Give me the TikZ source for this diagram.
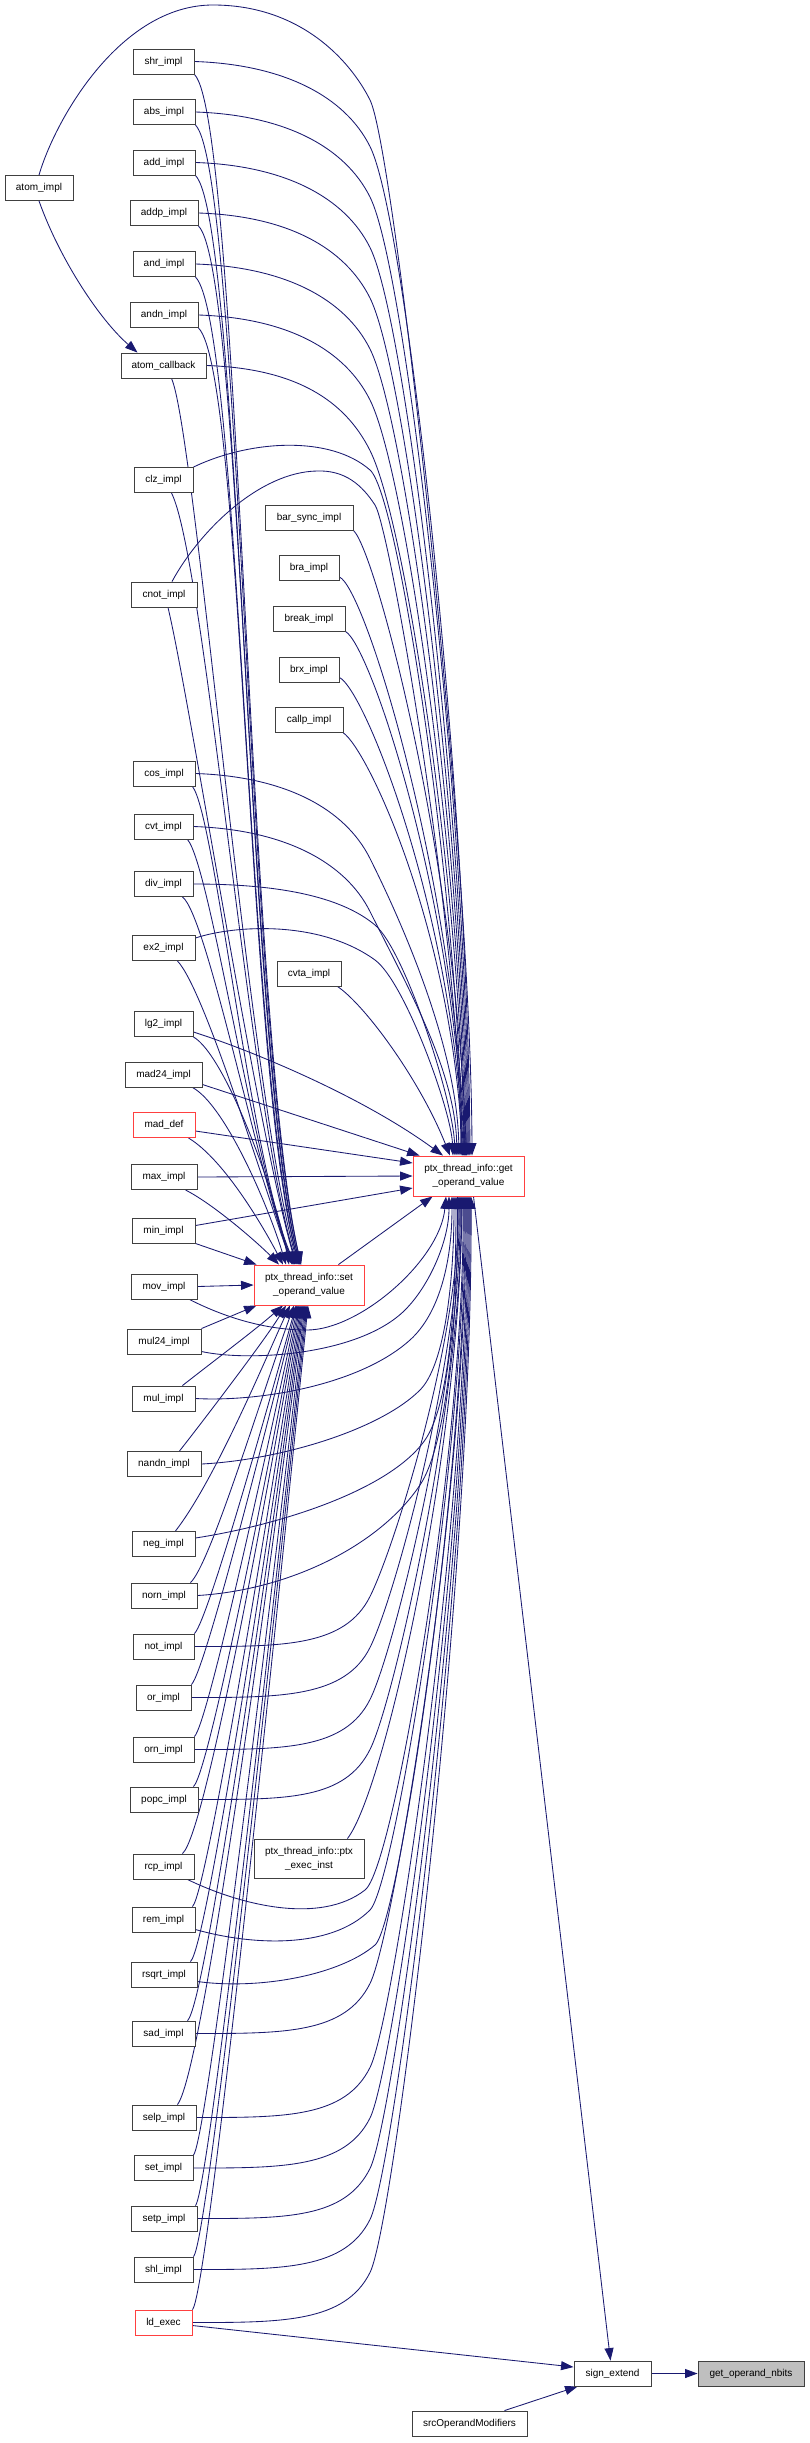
\documentclass[tikz,border=0pt]{standalone}
\usepackage{fontspec}
\setmainfont{Liberation Sans}
\usetikzlibrary{arrows.meta}
\definecolor{edgeblue}{RGB}{25,25,112}
\definecolor{boxgray}{RGB}{64,64,64}
\definecolor{boxred}{RGB}{255,64,64}
\definecolor{nbfill}{RGB}{191,191,191}
\pgfdeclarelayer{bg}
\pgfsetlayers{bg,main}
\tikzset{
  box/.style={draw=boxgray, line width=0.9pt, fill=white, inner sep=0pt, minimum height=25pt,
    font=\fontsize{10}{14}\selectfont, align=center, text=black},
  redbox/.style={box, draw=boxred},
  edge/.style={draw=edgeblue, line width=0.85pt, -{Triangle[length=12.5pt,width=9pt]}},
}
\newcommand\GetA[4]{\draw[edge] (#1.east) .. controls ({#2+90},{#3+3}) and (345,{#3+35}) .. (370,{#3+85}) .. controls (407.5,{#3+160}) and ({466.5+(#4)},{751.4+0.35*(#3+85)}) .. ([xshift=#4pt]xgetov.north);}
\newcommand\GetB[5]{\draw[edge] (#1.east) .. controls ({#2+90},#3) and (345,{#4+50}) .. (370,#4) .. controls (395,{#4-50}) and ({470.5+(#5)},{777.4+0.35*#4}) .. ([xshift=#5pt]xgetov.south);}
\newcommand\SetB[4]{\draw[edge] (#1) .. controls (#2,#3) and ({309+(#4)+0.25*(#2-309-(#4))},{1305+0.25*(#3-1305)}) .. ([xshift=#4pt]xsetov.south);}
\begin{document}
\begin{tikzpicture}[x=1pt,y=-1pt]
\begin{pgfonlayer}{bg}
\fill[white] (0,0) rectangle (809,2443);
\end{pgfonlayer}
\useasboundingbox (0,0) rectangle (809,2443);
% left column
\node[box,minimum width=61pt] (xshr) at (163.5,61.5) {shr\_impl};
\node[box,minimum width=62pt] (xabs) at (164,112) {abs\_impl};
\node[box,minimum width=62pt] (xadd) at (164,162.5) {add\_impl};
\node[box,minimum width=68pt] (xaddp) at (164,213) {addp\_impl};
\node[box,minimum width=62pt] (xand) at (164,264) {and\_impl};
\node[box,minimum width=68pt] (xandn) at (164,315) {andn\_impl};
\node[box,minimum width=85pt] (xatomcb) at (163.5,365.5) {atom\_callback};
\node[box,minimum width=68pt] (xatomimpl) at (39,188) {atom\_impl};
\node[box,minimum width=59pt] (xclz) at (163.5,480) {clz\_impl};
\node[box,minimum width=66pt] (xcnot) at (164,594.5) {cnot\_impl};
\node[box,minimum width=62pt] (xcos) at (164,773.5) {cos\_impl};
\node[box,minimum width=59pt] (xcvt) at (163.5,826.5) {cvt\_impl};
\node[box,minimum width=59pt] (xdiv) at (163.5,884) {div\_impl};
\node[box,minimum width=63pt] (xex2) at (163.5,948) {ex2\_impl};
\node[box,minimum width=59pt] (xlg2) at (163.5,1024) {lg2\_impl};
\node[box,minimum width=77pt] (xmad24) at (163.5,1074.5) {mad24\_impl};
\node[redbox,minimum width=62pt] (xmaddef) at (164,1125) {mad\_def};
\node[box,minimum width=66pt] (xmax) at (164,1177) {max\_impl};
\node[box,minimum width=63pt] (xmin) at (163.5,1230.5) {min\_impl};
\node[box,minimum width=66pt] (xmov) at (164,1286.5) {mov\_impl};
\node[box,minimum width=74pt] (xmul24) at (164,1341.5) {mul24\_impl};
\node[box,minimum width=63pt] (xmul) at (163.5,1398.5) {mul\_impl};
\node[box,minimum width=74pt] (xnandn) at (164,1464) {nandn\_impl};
\node[box,minimum width=63pt] (xneg) at (163.5,1544) {neg\_impl};
\node[box,minimum width=66pt] (xnorn) at (164,1595.5) {norn\_impl};
\node[box,minimum width=61pt] (xnot) at (163.5,1646.5) {not\_impl};
\node[box,minimum width=55pt] (xor) at (163.5,1697.5) {or\_impl};
\node[box,minimum width=61pt] (xorn) at (163.5,1749.5) {orn\_impl};
\node[box,minimum width=68pt] (xpopc) at (164,1799.5) {popc\_impl};
\node[box,minimum width=61pt] (xrcp) at (163.5,1866.5) {rcp\_impl};
\node[box,minimum width=63pt] (xrem) at (163.5,1919.5) {rem\_impl};
\node[box,minimum width=66pt] (xrsqrt) at (164,1974.5) {rsqrt\_impl};
\node[box,minimum width=63pt] (xsad) at (163.5,2033.5) {sad\_impl};
\node[box,minimum width=64pt] (xselp) at (164,2117.5) {selp\_impl};
\node[box,minimum width=59pt] (xset) at (163.5,2168) {set\_impl};
\node[box,minimum width=66pt] (xsetp) at (164,2218.5) {setp\_impl};
\node[box,minimum width=59pt] (xshl) at (163.5,2269.5) {shl\_impl};
\node[redbox,minimum width=57pt] (xldexec) at (163.5,2322.5) {ld\_exec};
% middle column
\node[box,minimum width=88pt] (xbarsync) at (309,517.5) {bar\_sync\_impl};
\node[box,minimum width=60pt] (xbra) at (309,568) {bra\_impl};
\node[box,minimum width=72pt] (xbreak) at (309,618.5) {break\_impl};
\node[box,minimum width=60pt] (xbrx) at (309,669.5) {brx\_impl};
\node[box,minimum width=68pt] (xcallp) at (309,720) {callp\_impl};
\node[box,minimum width=64pt] (xcvta) at (309,973.5) {cvta\_impl};
\node[redbox,minimum width=110pt,minimum height=40pt] (xsetov) at (309,1285) {ptx\_thread\_info::set\\\_operand\_value};
\node[box,minimum width=110pt,minimum height=39pt] (xptxexec) at (309,1858.5) {ptx\_thread\_info::ptx\\\_exec\_inst};
\node[redbox,minimum width=111pt,minimum height=40pt] (xgetov) at (468.5,1176) {ptx\_thread\_info::get\\\_operand\_value};
\node[box,minimum width=77pt] (xsignext) at (612.5,2373.5) {sign\_extend};
\node[box,minimum width=106pt,fill=nbfill] (xnbits) at (751,2373.5) {get\_operand\_nbits};
\node[box,minimum width=115pt] (xsrcom) at (469.5,2423.5) {srcOperandModifiers};

\begin{pgfonlayer}{bg}
% ---- edges into get (from above, left column)
\GetA{xshr}{194}{61.5}{1.5}
\GetA{xabs}{195}{112}{0.5}
\GetA{xadd}{195}{162.5}{-0.5}
\GetA{xaddp}{198}{213}{-1.5}
\GetA{xand}{195}{264}{-2.5}
\GetA{xandn}{198}{315}{-3.5}
\GetA{xatomcb}{206}{365.5}{-4.5}
\GetA{xcos}{195}{773.5}{-9.5}
\GetA{xcvt}{193}{826.5}{-11.5}
\draw[edge] (xatomimpl.north) .. controls (55,120) and (120,5) .. (213,5) .. controls (300,5) and (350,60) .. (370,100) .. controls (395,150) and (471,850) .. ([xshift=3.5pt]xgetov.north);
\draw[edge] (xatomimpl.south) .. controls (60,260) and (100,320) .. ([xshift=-26pt]xatomcb.north);
\draw[edge] (xclz.north east) .. controls (250,440) and (330,435) .. (370,470) .. controls (400,496) and (460,916) .. ([xshift=-6.5pt]xgetov.north);
\draw[edge] ([xshift=8pt]xcnot.north) .. controls (200,530) and (260,472) .. (317,471) .. controls (345,470) and (362,485) .. (375,505) .. controls (390,528) and (459,928) .. ([xshift=-7.5pt]xgetov.north);
\draw[edge] (xdiv.east) .. controls (290,884) and (345,900) .. (375,925) .. controls (405,950) and (453,1100) .. ([xshift=-13.5pt]xgetov.north);
\draw[edge] ([yshift=10pt]xex2.east) .. controls (235,925) and (320,920) .. (375,960) .. controls (405,982) and (451,1110) .. ([xshift=-15.5pt]xgetov.north);
\draw[edge] ([yshift=-8pt]xlg2.east) .. controls (250,1050) and (360,1095) .. ([xshift=-25.5pt]xgetov.north);
\draw[edge] ([yshift=-10pt]xmad24.east) -- ([xshift=7pt]xgetov.north west);
\draw[edge] ([yshift=-6pt]xmaddef.east) -- ([yshift=13pt]xgetov.west);
\draw[edge] (xmax.east) -- (xgetov.west);
\draw[edge] ([yshift=5pt]xmin.east) -- ([yshift=-12pt]xgetov.west);
% middle column into get
\draw[edge] (xbarsync.south east) .. controls (375,550) and (455,850) .. ([xshift=-2pt]xgetov.north);
\draw[edge] ([yshift=-9pt]xbra.east) .. controls (365,588) and (452,870) .. ([xshift=-3pt]xgetov.north);
\draw[edge] (xbreak.south east) .. controls (370,645) and (452,890) .. ([xshift=-4pt]xgetov.north);
\draw[edge] ([yshift=-8pt]xbrx.east) .. controls (365,690) and (452,910) .. ([xshift=-5pt]xgetov.north);
\draw[edge] (xcallp.south east) .. controls (368,750) and (452,930) .. ([xshift=-6pt]xgetov.north);
\draw[edge] ([xshift=-4pt]xcvta.south east) .. controls (365,1005) and (420,1080) .. ([xshift=-18.5pt]xgetov.north);
% ---- edges into set (from above)
\draw[edge] (xshr.south east) .. controls (239,119) and (248,1027) .. ([xshift=-8pt]xsetov.north);
\draw[edge] (xabs.south east) .. controls (240,170) and (248,1037) .. ([xshift=-8pt]xsetov.north);
\draw[edge] (xadd.south east) .. controls (240,220) and (248,1047) .. ([xshift=-9pt]xsetov.north);
\draw[edge] (xaddp.south east) .. controls (243,271) and (248,1057) .. ([xshift=-9pt]xsetov.north);
\draw[edge] (xand.south east) .. controls (240,322) and (248,1067) .. ([xshift=-10pt]xsetov.north);
\draw[edge] (xandn.south east) .. controls (243,372) and (248,1077) .. ([xshift=-10pt]xsetov.north);
\draw[edge] ([xshift=8pt]xatomcb.south) .. controls (195,430) and (248,1087) .. ([xshift=-11pt]xsetov.north);
\draw[edge] ([xshift=8pt]xclz.south) .. controls (205,560) and (250,1110) .. ([xshift=-12pt]xsetov.north);
\draw[edge] ([xshift=4pt]xcnot.south) .. controls (190,700) and (255,1120) .. ([xshift=-13pt]xsetov.north);
\draw[edge] ([xshift=-3pt]xcos.south east) .. controls (215,815) and (250,1160) .. ([xshift=-14pt]xsetov.north);
\draw[edge] ([xshift=-6pt]xcvt.south east) .. controls (210,865) and (255,1170) .. ([xshift=-15pt]xsetov.north);
\draw[edge] ([xshift=-11pt]xdiv.south east) .. controls (207,915) and (260,1180) .. ([xshift=-16pt]xsetov.north);
\draw[edge] ([xshift=-18pt]xex2.south east) .. controls (205,990) and (265,1190) .. ([xshift=-17pt]xsetov.north);
\draw[edge] (xlg2.south east) .. controls (225,1055) and (275,1190) .. ([xshift=-20pt]xsetov.north);
\draw[edge] ([xshift=-10pt]xmad24.south east) .. controls (225,1105) and (268,1205) .. ([xshift=-23pt]xsetov.north);
\draw[edge] ([xshift=-7pt]xmaddef.south east) .. controls (225,1160) and (265,1230) .. ([xshift=-26pt]xsetov.north);
\draw[edge] ([xshift=-12pt]xmax.south east) .. controls (215,1205) and (260,1245) .. ([xshift=-30pt]xsetov.north);
\draw[edge] (xmin.south east) -- ([xshift=3pt]xsetov.north west);
% ---- middle nodes
\draw[edge] (xmov.east) -- (xsetov.west);
\draw[edge] ([xshift=-8pt]xmov.south east) .. controls (230,1320) and (270,1330) .. (307,1330) .. controls (360,1330) and (440,1260) .. ([xshift=-22.5pt]xgetov.south);
\draw[edge] (xmul24.north east) -- ([xshift=3pt]xsetov.south west);
\draw[edge] ([yshift=-10pt]xmul24.east) .. controls (250,1362) and (360,1355) .. (405,1310) .. controls (430,1285) and (449,1240) .. ([xshift=-19.5pt]xgetov.south);
\draw[edge] ([xshift=-13pt]xmul.north east) .. controls (215,1360) and (255,1330) .. ([xshift=-26pt]xsetov.south);
\draw[edge] (xmul.east) .. controls (260,1402) and (360,1385) .. (410,1340) .. controls (440,1313) and (452,1260) .. ([xshift=-16.5pt]xgetov.south);
\draw[edge] ([xshift=-22pt]xnandn.north east) .. controls (200,1425) and (265,1340) .. ([xshift=-23pt]xsetov.south);
\draw[edge] (xnandn.east) .. controls (280,1460) and (380,1430) .. (420,1390) .. controls (445,1365) and (454,1280) .. ([xshift=-14.5pt]xgetov.south);
\draw[edge] ([xshift=-20pt]xneg.north east) .. controls (215,1480) and (265,1360) .. ([xshift=-19pt]xsetov.south);
\draw[edge] ([yshift=6pt]xneg.east) .. controls (280,1525) and (390,1490) .. (425,1440) .. controls (450,1404) and (456,1300) .. ([xshift=-12.5pt]xgetov.south);
\draw[edge] ([xshift=-7pt]xnorn.north east) .. controls (210,1565) and (260,1400) .. ([xshift=-15pt]xsetov.south);
\draw[edge] (xnorn.east) .. controls (290,1590) and (380,1545) .. (420,1485) .. controls (445,1448) and (458,1330) .. ([xshift=-11pt]xgetov.south);
% ---- edges into set (from below)
\SetB{xnot.north east}{209}{1619}{-13}
\SetB{xor.north east}{206}{1670}{-12}
\SetB{xorn.north east}{209}{1722}{-11}
\SetB{[xshift=-5pt]xpopc.north east}{210}{1772}{-10}
\SetB{[xshift=-12pt]xrcp.north east}{207}{1833}{-9}
\SetB{[xshift=-3pt]xrem.north east}{208}{1892}{-8}
\SetB{[xshift=-7pt]xrsqrt.north east}{208}{1947}{-7}
\SetB{[xshift=-8pt]xsad.north east}{207}{2005}{-6}
\SetB{[xshift=-19pt]xselp.north east}{205}{2070}{-5}
\SetB{xset.north east}{208}{2140}{-4}
\SetB{[xshift=-2pt]xsetp.north east}{210}{2190}{-3}
\SetB{xshl.north east}{209}{2242}{-2}
\SetB{xldexec.north east}{209}{2292}{-1}
% ---- edges into get (from below)
\GetB{xnot}{194}{1646.5}{1596.5}{-10.5}
\GetB{xor}{191}{1697.5}{1647.5}{-9.5}
\GetB{xorn}{194}{1749.5}{1699.5}{-8.5}
\GetB{xpopc}{198}{1799.5}{1749.5}{-7.5}
\GetB{xsad}{195}{2033.5}{1983.5}{-2.5}
\GetB{xselp}{196}{2117.5}{2067.5}{-1.5}
\GetB{xset}{193}{2168}{2118}{-0.5}
\GetB{xsetp}{197}{2218.5}{2168.5}{0.5}
\GetB{xshl}{193}{2269.5}{2219.5}{1.5}
\GetB{xldexec}{192}{2322.5}{2272.5}{2.5}
\draw[edge] ([xshift=-17pt]xptxexec.north east) .. controls (385,1790) and (460,1450) .. ([xshift=-6.5pt]xgetov.south);
\draw[edge] ([xshift=-7pt]xrcp.south east) .. controls (240,1905) and (320,1925) .. (365,1890) .. controls (395,1867) and (465,1439) .. ([xshift=-5.5pt]xgetov.south);
\draw[edge] ([yshift=-10pt]xrem.east) .. controls (250,1945) and (330,1950) .. (370,1910) .. controls (395,1885) and (466,1446) .. ([xshift=-4.5pt]xgetov.south);
\draw[edge] ([yshift=-7pt]xrsqrt.east) .. controls (260,1990) and (340,1975) .. (375,1945) .. controls (400,1923) and (467,1460) .. ([xshift=-3.5pt]xgetov.south);
% ---- remaining
\draw[edge] ([xshift=-26pt]xsetov.north east) -- ([xshift=20pt]xgetov.south west);
\draw[edge] ([xshift=5pt]xgetov.south) -- ([xshift=-2pt]xsignext.north);
\draw[edge] ([yshift=-3pt]xldexec.east) -- ([yshift=6.5pt]xsignext.west);
\draw[edge] ([xshift=35pt]xsrcom.north) -- ([xshift=4pt]xsignext.south west);
\draw[edge] (xsignext.east) -- (xnbits.west);
\end{pgfonlayer}
\end{tikzpicture}
\end{document}
